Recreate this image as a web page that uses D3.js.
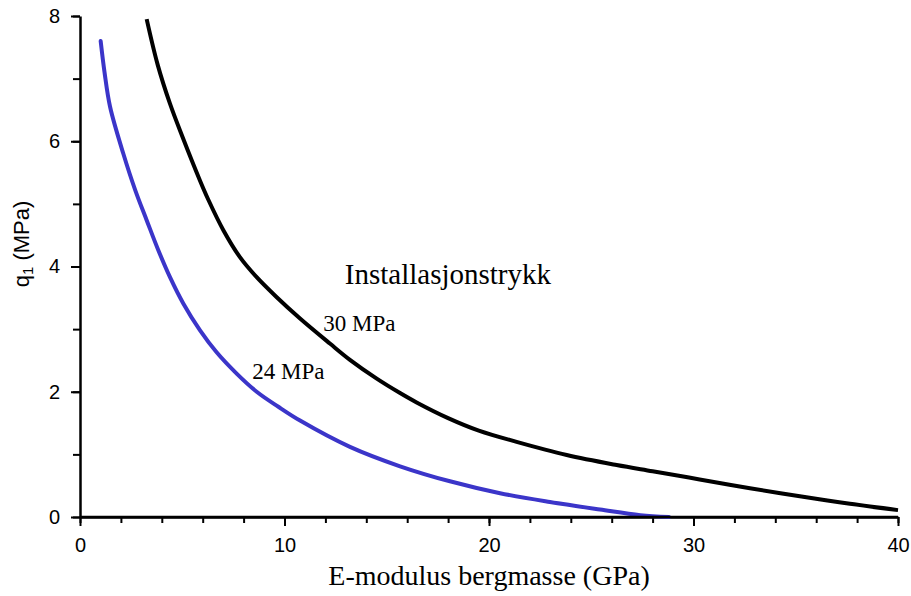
<!DOCTYPE html>
<html>
<head>
<meta charset="utf-8">
<script src="https://cdn.jsdelivr.net/npm/d3@7"></script>
<style>
  body { margin: 0; background: #fff; }
  svg { display: block; }
</style>
</head>
<body>
<div id="chart"></div>
<script>
var width = 911,
    height = 596;

var margin = {top: 16, right: 13, bottom: 79, left: 80};

// curves: [E-modulus (GPa), q1 (MPa)]
var curve30 = [[3.26,7.95],[3.8,7.22],[4.4,6.6],[5.0,6.08],[5.87,5.37],[6.27,5.07],[7.01,4.58],
               [7.82,4.15],[8.64,3.83],[9.62,3.51],[10.76,3.17],[12.22,2.77],[13.2,2.51],
               [14.51,2.21],[15.65,1.98],[16.46,1.83],[18.0,1.58],[19.5,1.38],[21.35,1.2],
               [23.8,0.99],[26.24,0.83],[28.0,0.73],[30.3,0.6],[32.76,0.46],[35.2,0.33],
               [37.65,0.21],[40.0,0.11]];
var curve24 = [[1.01,7.6],[1.2,7.1],[1.47,6.55],[2.12,5.8],[2.7,5.22],[3.26,4.74],[3.83,4.26],
               [4.4,3.83],[5.05,3.41],[5.87,2.98],[6.68,2.63],[7.66,2.29],[8.64,2.0],
               [9.7,1.76],[10.76,1.54],[13.2,1.12],[15.65,0.81],[18.09,0.57],[20.54,0.38],
               [22.98,0.24],[25.43,0.12],[27.4,0.03],[28.8,0]];

var xMajor = [0, 10, 20, 30, 40];
var xMinor = d3.range(0, 41, 2);
var yMajor = [0, 2, 4, 6, 8];
var yMinor = d3.range(0, 9, 1);

var labels = [
  {text: "30 MPa", x: 11.9, y: 2.97, size: 23},
  {text: "24 MPa", x: 8.42, y: 2.21, size: 23}
];

var svg = d3.select("#chart")
  .append("svg")
  .attr("width", width)
  .attr("height", height);

var g = svg.append("g")
  .attr("transform", "translate(" + margin.left + "," + margin.top + ")");

var w = width - margin.left - margin.right,
    h = height - margin.top - margin.bottom;

var x = d3.scaleLinear().domain([0, 40]).range([0, w]);
var y = d3.scaleLinear().domain([0, 8]).range([h, 0]);

// minor ticks first, then main axes over them
g.append("g")
  .attr("transform", "translate(0," + h + ")")
  .call(d3.axisBottom(x).tickValues(xMinor).tickSize(6).tickSizeOuter(0).tickFormat(""))
  .call(function(a){ a.select(".domain").remove(); a.selectAll("line").attr("stroke-width", 2); });

g.append("g")
  .call(d3.axisLeft(y).tickValues(yMinor).tickSize(7).tickSizeOuter(0).tickFormat(""))
  .call(function(a){ a.select(".domain").remove(); a.selectAll("line").attr("stroke-width", 2); });

var xAxis = g.append("g")
  .attr("transform", "translate(0," + h + ")")
  .call(d3.axisBottom(x).tickValues(xMajor).tickSize(9).tickSizeOuter(0));

var yAxis = g.append("g")
  .call(d3.axisLeft(y).tickValues(yMajor).tickSize(9).tickSizeOuter(0));

[xAxis, yAxis].forEach(function(a){
  a.select(".domain").attr("stroke-width", 2.5);
  a.selectAll("line").attr("stroke-width", 2);
  a.selectAll("text")
    .attr("font-family", "'Liberation Sans', Arial, sans-serif")
    .attr("font-size", 20)
    .attr("fill", "#000");
});
xAxis.selectAll("text").attr("y", 35).attr("dy", null);
yAxis.selectAll("text").attr("x", -20);

var line = d3.line()
  .x(function(d){ return x(d[0]) })
  .y(function(d){ return y(d[1]) })
  .curve(d3.curveCatmullRom);

g.append("path")
  .datum(curve24)
  .attr("d", line)
  .attr("fill", "none")
  .attr("stroke", "#3b35c9")
  .attr("stroke-width", 4)
  .attr("stroke-linecap", "round");

g.append("path")
  .datum(curve30)
  .attr("d", line)
  .attr("fill", "none")
  .attr("stroke", "#000")
  .attr("stroke-width", 4);

// redraw x axis line on top of the blue tail
g.append("line")
  .attr("x1", 0).attr("x2", w)
  .attr("y1", h).attr("y2", h)
  .attr("stroke", "#000").attr("stroke-width", 2.5);

g.selectAll(".lbl")
  .data(labels)
  .enter()
  .append("text")
  .attr("x", function(d){ return x(d.x) })
  .attr("y", function(d){ return y(d.y) })
  .attr("font-family", "'Liberation Serif', 'Times New Roman', serif")
  .attr("font-size", function(d){ return d.size })
  .text(function(d){ return d.text });

g.append("text")
  .attr("x", x(12.95))
  .attr("y", y(3.72))
  .attr("font-family", "'Liberation Serif', 'Times New Roman', serif")
  .attr("font-size", 29)
  .text("Installasjonstrykk");

svg.append("text")
  .attr("x", margin.left + x(20))
  .attr("y", 585)
  .attr("text-anchor", "middle")
  .attr("font-family", "'Liberation Serif', 'Times New Roman', serif")
  .attr("font-size", 28)
  .text("E-modulus bergmasse (GPa)");

var yt = svg.append("text")
  .attr("transform", "translate(29,244) rotate(-90)")
  .attr("text-anchor", "middle")
  .attr("font-family", "'Liberation Sans', Arial, sans-serif")
  .attr("font-size", 22);
yt.append("tspan").text("q");
yt.append("tspan").attr("font-size", 15).attr("dy", 4).text("1");
yt.append("tspan").attr("dy", -4).text(" (MPa)");
</script>
</body>
</html>
